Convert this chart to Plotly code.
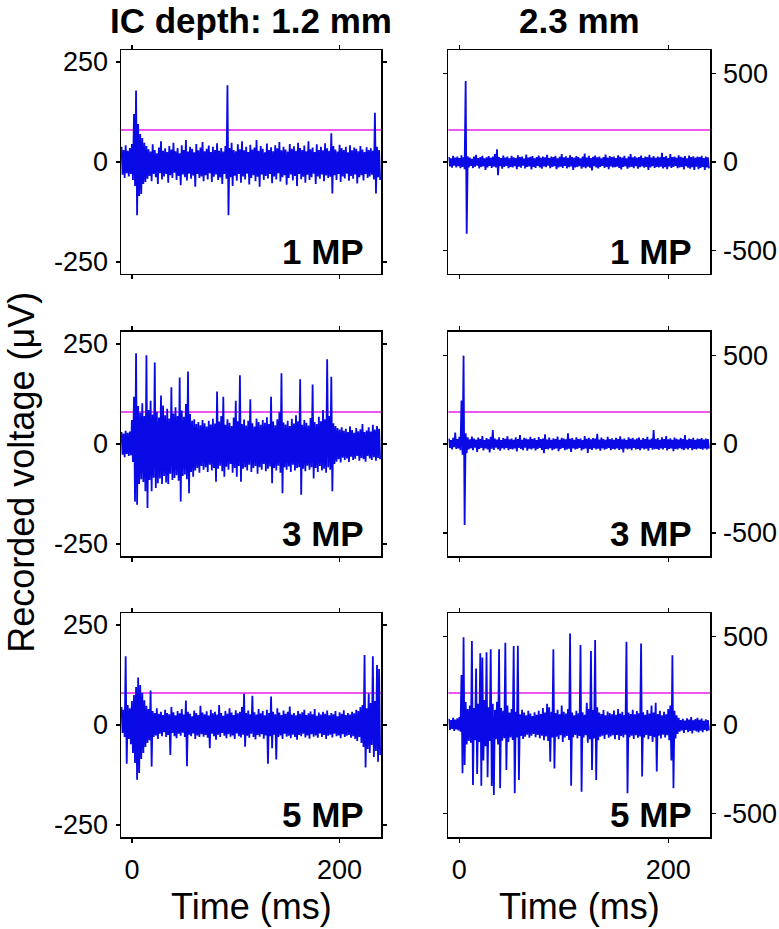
import plotly.graph_objects as go

# ---------------- data ----------------
# time bins (ms): each 2-ms bin has a max (hi, drawn at t) and a min (lo, drawn at t+1)
bin_start = -10
bin_ms = 2
n_bins = 125

col_titles = ["IC depth: 1.2 mm", "2.3 mm"]
row_labels = ["1 MP", "3 MP", "5 MP"]
x_ticks = [0, 200]
y_ticks_left = [-250, 0, 250]
y_ticks_right = [-500, 0, 500]
thresh_left = 80
thresh_right = 180

# 1.2 mm, 1 MP
l1_hi = [38, 30, 42, 28, 35, 45, 120, 179, 95, 70,
         60, 48, 40, 32, 26, 44, 30, 22, 36, 52,
         28, 34, 25, 40, 31, 48, 27, 35, 22, 42,
         30, 55, 26, 38, 33, 24, 45, 29, 36, 50,
         27, 33, 41, 25, 38, 30, 47, 28, 35, 26,
         40, 192, 35, 48, 30, 27, 44, 32, 52, 29,
         38, 25, 43, 31, 36, 55, 28, 40, 33, 24,
         46, 30, 37, 27, 42, 34, 50, 29, 38, 31,
         26, 45, 33, 39, 28, 48, 35, 30, 41, 27,
         52, 32, 36, 25, 44, 30, 38, 29, 47, 34,
         28, 72, 40, 31, 26, 43, 35, 30, 38, 24,
         42, 29, 36, 33, 27, 40, 31, 25, 37, 30,
         34, 28, 123, 38, 30]
l1_lo = [-32, -40, -28, -36, -30, -45, -60, -133, -85, -80,
         -55, -50, -42, -35, -48, -30, -38, -55, -28, -44,
         -36, -30, -52, -33, -40, -27, -45, -35, -58, -31,
         -38, -46, -29, -42, -34, -62, -30, -40, -36, -48,
         -33, -44, -28, -50, -37, -31, -45, -39, -55, -30,
         -42, -133, -38, -60, -34, -47, -30, -52, -36, -44,
         -29, -56, -40, -33, -48, -37, -62, -31, -45, -35,
         -41, -30, -53, -36, -44, -28, -49, -38, -33, -57,
         -40, -31, -46, -35, -60, -30, -43, -37, -52, -32,
         -45, -38, -29, -55, -36, -42, -31, -48, -34, -40,
         -37, -79, -33, -45, -30, -50, -36, -41, -29, -47,
         -35, -42, -31, -54, -38, -33, -46, -30, -40, -36,
         -32, -44, -79, -38, -45]

# 2.3 mm, 1 MP
r1_hi = [28, 20, 35, 24, 30, 22, 38, 26, 455, 32,
         25, 18, 30, 40, 22, 28, 35, 20, 26, 33,
         24, 30, 45, 71, 28, 22, 36, 25, 31, 20,
         34, 26, 22, 38, 27, 30, 19, 42, 25, 29,
         33, 21, 28, 36, 24, 30, 26, 40, 22, 31,
         27, 35, 20, 29, 45, 26, 32, 23, 38, 28,
         24, 33, 27, 21, 30, 48, 25, 34, 22, 29,
         36, 26, 31, 20, 28, 42, 24, 33, 27, 30,
         22, 38, 29, 25, 35, 21, 30, 44, 26, 32,
         24, 28, 36, 22, 31, 27, 40, 25, 33, 23,
         30, 26, 52, 28, 34, 22, 45, 27, 31, 24,
         38, 29, 25, 33, 21, 36, 28, 32, 24, 30,
         27, 35, 22, 31, 26]
r1_lo = [-25, -32, -20, -30, -24, -35, -28, -40, -403, -30,
         -22, -34, -26, -20, -36, -28, -24, -45, -30, -22,
         -33, -26, -30, -75, -24, -38, -28, -22, -35, -27,
         -30, -24, -40, -26, -32, -20, -36, -28, -25, -42,
         -27, -33, -22, -30, -38, -25, -29, -21, -35, -28,
         -24, -40, -30, -26, -33, -22, -36, -29, -25, -44,
         -31, -27, -23, -38, -29, -35, -26, -32, -48, -24,
         -30, -36, -27, -22, -34, -28, -40, -25, -31, -29,
         -26, -33, -42, -28, -24, -37, -30, -27, -35, -23,
         -38, -29, -25, -32, -27, -45, -30, -24, -34, -28,
         -31, -26, -36, -29, -40, -25, -33, -28, -22, -35,
         -30, -27, -42, -24, -32, -38, -29, -44, -26, -40,
         -33, -28, -45, -30, -36]

# 1.2 mm, 3 MP
l2_hi = [30, 26, 33, 28, 31, 60, 118, 227, 95, 78,
         102, 70, 222, 85, 108, 74, 204, 80, 66, 121,
         96, 72, 88, 64, 142, 76, 92, 70, 166, 84,
         68, 100, 181, 75, 58, 62, 50, 55, 47, 60,
         52, 44, 58, 49, 63, 51, 131, 56, 70, 118,
         48, 62, 53, 45, 66, 108, 57, 172, 50, 61,
         46, 58, 112, 52, 44, 64, 55, 48, 60, 53,
         67, 50, 118, 56, 47, 62, 80, 177, 54, 49,
         58, 45, 63, 51, 72, 57, 162, 48, 60, 53,
         46, 65, 149, 55, 50, 68, 57, 85, 62, 212,
         70, 168, 52, 45, 40, 36, 42, 33, 38, 30,
         44, 35, 28, 40, 32, 37, 50, 30, 34, 42,
         31, 48, 36, 45, 38]
l2_lo = [-27, -33, -25, -30, -28, -45, -144, -152, -100, -88,
         -95, -118, -160, -90, -118, -84, -110, -98, -86, -100,
         -80, -96, -100, -74, -90, -85, -78, -92, -144, -80,
         -76, -88, -123, -70, -82, -66, -60, -72, -55, -64,
         -58, -70, -52, -66, -60, -94, -62, -54, -68, -82,
         -57, -64, -50, -72, -60, -82, -55, -94, -62, -58,
         -66, -52, -70, -60, -55, -74, -58, -64, -50, -68,
         -62, -56, -98, -60, -66, -54, -72, -123, -58, -64,
         -56, -70, -52, -66, -60, -58, -127, -62, -68, -54,
         -64, -58, -86, -60, -70, -55, -66, -62, -72, -58,
         -64, -118, -50, -44, -38, -46, -34, -40, -36, -45,
         -32, -40, -37, -30, -42, -35, -38, -44, -30, -36,
         -40, -33, -42, -35, -38]

# 2.3 mm, 3 MP
r2_hi = [30, 22, 35, 65, 28, 40, 245, 497, 60, 38,
         26, 42, 30, 24, 36, 28, 45, 22, 33, 27,
         40, 79, 30, 25, 38, 22, 34, 29, 44, 26,
         31, 24, 37, 28, 50, 23, 35, 30, 26, 41,
         28, 33, 22, 39, 27, 30, 55, 25, 36, 24,
         32, 28, 42, 23, 35, 30, 26, 60, 29, 34,
         24, 38, 27, 31, 22, 45, 29, 35, 26, 33,
         30, 58, 25, 36, 28, 23, 40, 27, 32, 24,
         35, 28, 43, 26, 31, 22, 38, 29, 34, 25,
         30, 36, 24, 33, 27, 41, 25, 31, 79, 28,
         33, 24, 37, 28, 45, 26, 32, 23, 36, 29,
         25, 34, 28, 50, 24, 31, 27, 35, 22, 30,
         28, 33, 25, 30, 27]
r2_lo = [-22, -30, -18, -28, -25, -35, -60, -455, -52, -30,
         -24, -34, -20, -45, -27, -22, -36, -25, -30, -48,
         -26, -33, -20, -29, -38, -24, -31, -22, -35, -27,
         -30, -25, -42, -22, -28, -34, -21, -38, -26, -31,
         -24, -36, -28, -22, -33, -52, -27, -30, -23, -35,
         -29, -25, -40, -28, -22, -34, -30, -26, -44, -24,
         -31, -27, -22, -36, -29, -25, -50, -28, -33, -23,
         -30, -26, -38, -24, -32, -28, -22, -35, -27, -30,
         -25, -33, -29, -48, -24, -31, -26, -35, -22, -30,
         -28, -34, -24, -30, -26, -38, -22, -32, -29, -27,
         -33, -25, -30, -22, -36, -28, -24, -40, -27, -31,
         -23, -29, -34, -25, -30, -22, -35, -27, -31, -24,
         -28, -32, -25, -30, -26]

# 1.2 mm, 5 MP
l3_hi = [45, 38, 172, 50, 42, 60, 75, 95, 119, 100,
         80, 62, 48, 40, 86, 35, 30, 42, 28, 33,
         25, 38, 30, 27, 45, 32, 24, 35, 29, 40,
         26, 61, 33, 28, 22, 36, 30, 25, 48, 31,
         27, 34, 24, 38, 29, 33, 26, 50, 30, 23,
         35, 28, 42, 31, 25, 37, 29, 33, 45, 78,
         30, 36, 27, 73, 32, 26, 40, 29, 35, 24,
         38, 30, 71, 33, 27, 42, 31, 25, 36, 28,
         33, 46, 26, 30, 24, 35, 28, 32, 38, 25,
         29, 34, 27, 40, 23, 31, 26, 33, 28, 36,
         24, 30, 27, 35, 22, 32, 28, 37, 25, 30,
         26, 33, 29, 38, 35, 45, 50, 175, 42, 79,
         55, 172, 60, 150, 140]
l3_lo = [-20, -30, -97, -35, -48, -70, -95, -137, -120, -85,
         -70, -55, -45, -38, -104, -30, -26, -35, -22, -28,
         -18, -30, -25, -75, -20, -28, -33, -22, -27, -19,
         -30, -103, -24, -28, -21, -35, -26, -30, -23, -29,
         -25, -32, -58, -22, -28, -37, -24, -30, -20, -27,
         -33, -23, -29, -26, -35, -21, -28, -31, -24, -54,
         -27, -32, -22, -30, -36, -25, -29, -23, -34, -26,
         -97, -28, -58, -24, -86, -30, -26, -35, -22, -29,
         -27, -33, -24, -30, -37, -25, -28, -22, -31, -26,
         -34, -23, -29, -26, -32, -21, -30, -25, -35, -27,
         -24, -31, -22, -28, -26, -33, -23, -30, -27, -25,
         -32, -28, -35, -40, -30, -45, -55, -106, -60, -70,
         -50, -80, -65, -92, -75]

# 2.3 mm, 5 MP
r3_hi = [35, 28, 40, 30, 38, 45, 281, 493, 130, 90,
         110, 473, 95, 318, 120, 403, 380, 140, 409, 100,
         426, 120, 85, 130, 426, 95, 80, 463, 110, 70,
         90, 444, 75, 446, 60, 85, 70, 55, 80, 65,
         50, 72, 58, 80, 62, 95, 70, 120, 100, 75,
         426, 68, 85, 60, 110, 75, 65, 90, 515, 70,
         55, 80, 66, 450, 72, 58, 125, 90, 416, 85,
         478, 100, 70, 62, 84, 55, 76, 68, 60, 82,
         58, 90, 64, 75, 56, 468, 70, 62, 85, 60,
         78, 66, 459, 72, 58, 84, 64, 110, 70, 125,
         62, 80, 55, 74, 60, 90, 110, 393, 80, 55,
         40, 28, 35, 25, 38, 30, 45, 27, 33, 40,
         29, 36, 24, 32, 28]
r3_lo = [-28, -22, -33, -25, -30, -38, -272, -225, -110, -90,
         -100, -337, -85, -275, -95, -341, -200, -120, -294, -90,
         -343, -393, -80, -110, -356, -88, -75, -253, -95, -70,
         -84, -384, -70, -309, -62, -78, -66, -55, -72, -60,
         -50, -68, -56, -75, -60, -85, -64, -90, -206, -70,
         -244, -66, -80, -58, -95, -70, -62, -84, -341, -68,
         -56, -75, -62, -375, -70, -58, -100, -80, -253, -76,
         -309, -85, -66, -60, -78, -55, -72, -64, -58, -80,
         -56, -84, -62, -70, -55, -384, -68, -60, -78, -58,
         -72, -64, -290, -70, -56, -80, -62, -95, -68, -262,
         -60, -76, -55, -70, -58, -85, -200, -356, -75, -50,
         -38, -30, -45, -28, -40, -33, -47, -30, -36, -42,
         -32, -40, -28, -35, -30]

# ---------------- layout geometry ----------------
col_dom = [[0.0, 0.4417], [0.5559, 1.0]]
row_dom = [[0.7154, 1.0], [0.357, 0.6417], [0.0, 0.2846]]
x_range = [-10.5, 240]
y_range_left = [-280, 280]
y_range_right = [-630, 630]

FONT = "Liberation Sans, Arial, Helvetica, sans-serif"
TRACE_BLUE = "#0a0ae6"
THRESH = "#e81ee8"
TICK_SIZE = 27


def tick_text(vals):
    # plain hyphen-minus, as in the reference
    return [str(v) for v in vals]


panels = [
    (0, 0, l1_hi, l1_lo), (0, 1, r1_hi, r1_lo),
    (1, 0, l2_hi, l2_lo), (1, 1, r2_hi, r2_lo),
    (2, 0, l3_hi, l3_lo), (2, 1, r3_hi, r3_lo),
]

times = [bin_start + bin_ms * k for k in range(n_bins)]

fig = go.Figure()
layout = dict(
    width=779, height=929,
    margin=dict(l=121, r=69, t=50, b=92, autoexpand=False),
    paper_bgcolor="white", plot_bgcolor="white",
    showlegend=False,
    font=dict(family=FONT, color="black", size=TICK_SIZE),
)
annotations = []
shapes = []

for i, (r, c, hi, lo) in enumerate(panels):
    idx = i + 1
    xs, ys = [], []
    for t, h, l in zip(times, hi, lo):
        xs += [t, t + bin_ms / 2]
        ys += [h, l]
    xname = "x" if idx == 1 else f"x{idx}"
    yname = "y" if idx == 1 else f"y{idx}"
    fig.add_trace(go.Scatter(x=xs, y=ys, mode="lines",
                             line=dict(color=TRACE_BLUE, width=1.8),
                             xaxis=xname, yaxis=yname, hoverinfo="skip"))
    thr = thresh_left if c == 0 else thresh_right
    shapes.append(dict(type="line", xref=f"{xname} domain", yref=yname,
                       x0=0, x1=1, y0=thr, y1=thr,
                       line=dict(color=THRESH, width=1.3), layer="below"))
    xkey = "xaxis" if idx == 1 else f"xaxis{idx}"
    ykey = "yaxis" if idx == 1 else f"yaxis{idx}"
    yt = y_ticks_left if c == 0 else y_ticks_right
    layout[xkey] = dict(
        domain=col_dom[c], anchor=yname, range=x_range, automargin=False,
        tickmode="array", tickvals=x_ticks, ticktext=tick_text(x_ticks),
        showticklabels=(r == 2), ticks="outside", ticklen=4, tickwidth=1.2,
        tickcolor="black", mirror="ticks", showline=True, linecolor="black",
        linewidth=1.5, showgrid=False, zeroline=False,
        tickfont=dict(size=TICK_SIZE), ticklabelstandoff=4,
    )
    layout[ykey] = dict(
        domain=row_dom[r], anchor=xname, automargin=False,
        range=y_range_left if c == 0 else y_range_right,
        tickmode="array", tickvals=yt, ticktext=tick_text(yt),
        side="left" if c == 0 else "right",
        ticks="outside", ticklen=4, tickwidth=1.2, tickcolor="black",
        mirror="ticks", showline=True, linecolor="black", linewidth=1.5,
        showgrid=False, zeroline=False, tickfont=dict(size=TICK_SIZE),
        ticklabelstandoff=2,
    )
    annotations.append(dict(text=f"<b>{row_labels[r]}</b>",
                            xref=f"{xname} domain", yref=f"{yname} domain",
                            x=0.94, y=0.006, xanchor="right", yanchor="bottom",
                            showarrow=False, font=dict(size=35)))

# column titles and x-axis titles
for c, title in enumerate(col_titles):
    annotations.append(dict(text=f"<b>{title}</b>", xref="paper", yref="paper",
                            x=sum(col_dom[c]) / 2, y=1.0375,
                            xanchor="center", yanchor="middle",
                            showarrow=False, font=dict(size=35)))
    annotations.append(dict(text="Time (ms)", xref="paper", yref="paper",
                            x=sum(col_dom[c]) / 2, y=-0.0877,
                            xanchor="center", yanchor="middle",
                            showarrow=False, font=dict(size=36)))

annotations.append(dict(text="Recorded voltage (μV)", xref="paper", yref="paper",
                        x=-0.1685, y=0.4638, xanchor="center", yanchor="middle",
                        textangle=-90, showarrow=False, font=dict(size=36)))

layout["annotations"] = annotations
layout["shapes"] = shapes
fig.update_layout(**layout)
fig.write_html(
    "out.html",
    config={"displayModeBar": False, "staticPlot": True},
    post_script="document.body.style.margin='0px';"
                "document.body.style.overflow='hidden';",
)
